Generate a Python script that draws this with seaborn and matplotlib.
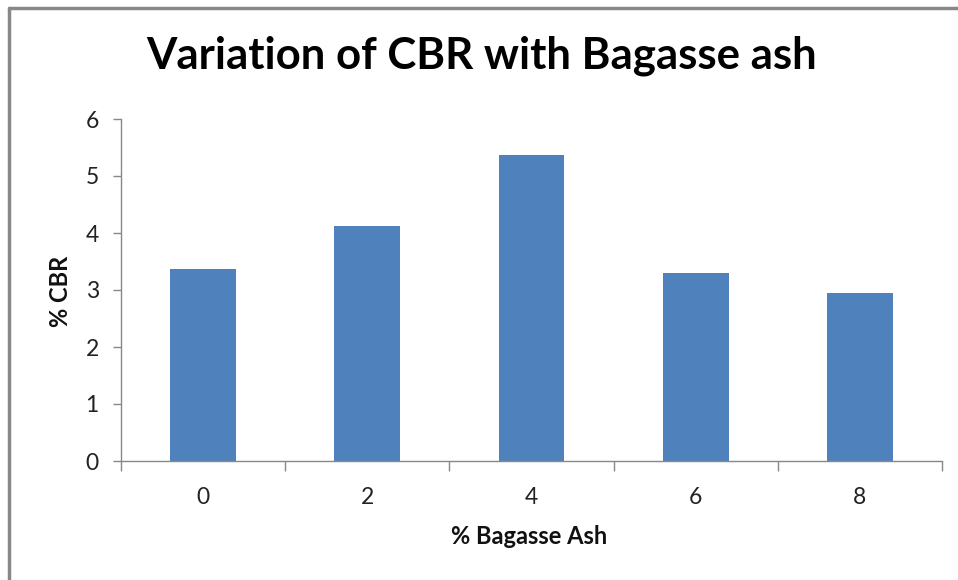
import matplotlib
matplotlib.use("Agg")
import matplotlib.pyplot as plt
from matplotlib.lines import Line2D
import seaborn as sns
import pandas as pd

categories = ["0", "2", "4", "6", "8"]
cbr_values = [3.37, 4.13, 5.37, 3.29, 2.94]
y_ticks = [0, 1, 2, 3, 4, 5, 6]

title = "Variation of CBR with Bagasse ash"
x_label = "% Bagasse Ash"
y_label = "% CBR"

sns.set_style("white")
plt.rcParams['font.family'] = ['Lato', 'DejaVu Sans']

df = pd.DataFrame({"ash": categories, "cbr": cbr_values})

fig = plt.figure(figsize=(9.58, 5.8), dpi=100)
ax = fig.add_axes([121/958, 1-461/580, (942-121)/958, (461-119)/580])

sns.barplot(data=df, x="ash", y="cbr", order=categories, color="#4F81BD",
            saturation=1, width=0.4, ax=ax, edgecolor="none")

ax.set_xlim(-0.5, len(categories) - 0.5)
ax.set_ylim(0, 6)
ax.set_yticks(y_ticks)
ax.set_yticklabels([str(t) for t in y_ticks], fontsize=16.5, color="#222222")
ax.set_xticks(range(len(categories)))
ax.set_xticklabels(categories, fontsize=16.5, color="#222222")
ax.set_xticks([i - 0.5 for i in range(len(categories) + 1)], minor=True)
ax.tick_params(axis="x", which="major", bottom=True, length=0, pad=19)
ax.tick_params(axis="x", which="minor", bottom=True, length=7, color="#888888", width=1)
ax.tick_params(axis="y", which="major", left=True, length=6, color="#888888", width=1, pad=10)

for side in ["top", "right"]:
    ax.spines[side].set_visible(False)
for side in ["left", "bottom"]:
    ax.spines[side].set_color("#888888")
    ax.spines[side].set_linewidth(1)

ax.set_xlabel("")
ax.set_ylabel("")
fig.text(529/958, 1-536/580, x_label, ha="center", va="center",
         fontsize=17, fontweight="bold", color="#111111")
fig.text(60/958, 1-291/580, y_label, ha="center", va="center", rotation=90,
         fontsize=17, fontweight="bold", color="#111111")
fig.text(482/958, 1-56/580, title, ha="center", va="center",
         fontsize=31.5, fontweight="bold", color="#000000")

# figure border (left and top visible)
fig.add_artist(Line2D([9/958, 9/958], [0, 1-8/580], transform=fig.transFigure,
                      color="#888888", linewidth=2.5))
fig.add_artist(Line2D([9/958, 1], [1-8/580, 1-8/580], transform=fig.transFigure,
                      color="#888888", linewidth=2.5))

fig.savefig("out.png", dpi=100)
